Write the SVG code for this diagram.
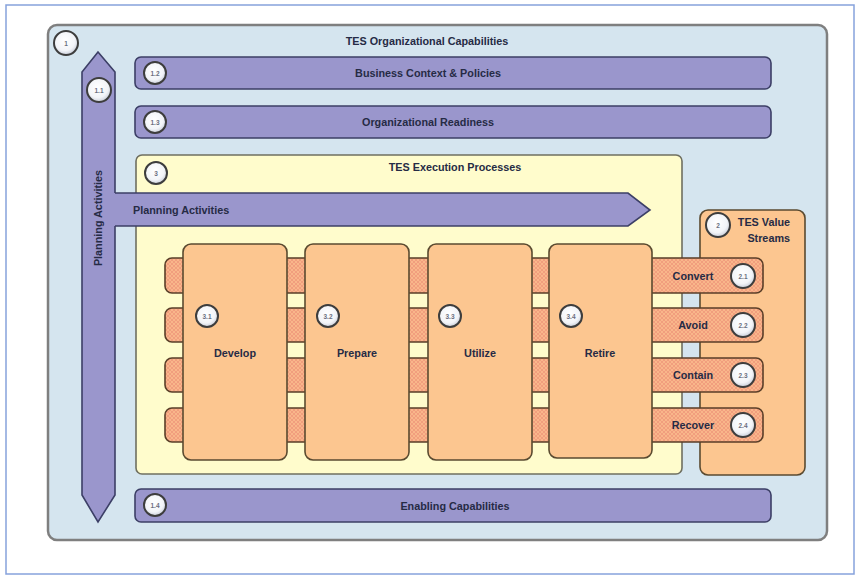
<svg xmlns="http://www.w3.org/2000/svg" width="856" height="576" viewBox="0 0 856 576">
<style>
.lbl{font-family:"Liberation Sans",Arial,sans-serif;font-weight:bold;font-size:10.8px;fill:#262b45;text-anchor:middle;dominant-baseline:central}
.ttl{font-family:"Liberation Sans",Arial,sans-serif;font-weight:bold;font-size:10.8px;fill:#262b45;dominant-baseline:central}
.num{font-family:"Liberation Sans",Arial,sans-serif;font-weight:bold;font-size:6.5px;fill:#6a6f80;text-anchor:middle;dominant-baseline:central}
.purple{fill:#9a96cc;stroke:#3c3f66;stroke-width:1.6}
.orange{fill:#fcc690;stroke:#5a4a30;stroke-width:1.6}
.hatch{fill:url(#hatch);stroke:#5a3e28;stroke-width:1.6}
.badge{fill:url(#bg);stroke:#3d3d3d;stroke-width:2}
</style>
<defs>
<pattern id="hatch" width="4" height="4" patternUnits="userSpaceOnUse">
<rect width="4" height="4" fill="#f9b68a"/>
<path d="M0,0 L4,4 M4,0 L0,4" stroke="#ee9478" stroke-width="0.7"/>
</pattern>
<radialGradient id="bg" cx="0.45" cy="0.4" r="0.6">
<stop offset="0" stop-color="#ffffff"/>
<stop offset="0.7" stop-color="#f2f4f8"/>
<stop offset="1" stop-color="#c9ceda"/>
</radialGradient>
</defs>
<rect x="6" y="5" width="848" height="569" fill="#ffffff" stroke="#86a2dc" stroke-width="1.5"/>
<g id="n1">
<rect x="48" y="25" width="779" height="515" rx="9" fill="#d5e5ef" stroke="#7f7f7f" stroke-width="2.5"/>
<text class="ttl" x="427" y="41" text-anchor="middle">TES Organizational Capabilities</text>
<circle class="badge" cx="66" cy="43" r="12"/><text class="num" x="66" y="43">1</text>
</g>
<g id="n1-2">
<rect class="purple" x="135" y="57" width="636" height="32" rx="6"/>
<text class="lbl" x="428" y="73">Business Context &amp; Policies</text>
<circle class="badge" cx="155" cy="73" r="11"/><text class="num" x="155" y="73">1.2</text>
</g>
<g id="n1-3">
<rect class="purple" x="135" y="106" width="636" height="32" rx="6"/>
<text class="lbl" x="428" y="122">Organizational Readiness</text>
<circle class="badge" cx="155" cy="122" r="11"/><text class="num" x="155" y="122">1.3</text>
</g>
<g id="n1-4">
<rect class="purple" x="135" y="489" width="636" height="33" rx="6"/>
<text class="lbl" x="455" y="506">Enabling Capabilities</text>
<circle class="badge" cx="155" cy="505" r="11"/><text class="num" x="155" y="505">1.4</text>
</g>
<g id="n3">
<rect x="136" y="155" width="546" height="319" rx="6" fill="#fffccc" stroke="#6f6f60" stroke-width="1.6"/>
<text class="ttl" x="455" y="167" text-anchor="middle">TES Execution Processes</text>
<circle class="badge" cx="156" cy="173" r="11"/><text class="num" x="156" y="173">3</text>
</g>
<g id="n2">
<rect class="orange" x="700" y="210" width="105" height="265" rx="8"/>
<text class="ttl" x="790" y="222" text-anchor="end">TES Value</text>
<text class="ttl" x="790" y="238" text-anchor="end">Streams</text>
<circle class="badge" cx="718" cy="225" r="12"/><text class="num" x="718" y="225">2</text>
</g>
<g id="n1-1">
<path class="purple" d="M98,52 L115,72 L115,495 L98,522 L82,495 L82,72 Z"/>
<path d="M113.5,193 L628,193 L650,210 L628,226 L113.5,226 Z" fill="#9a96cc"/>
<path d="M115,193 L628,193 L650,210 L628,226 L115,226" fill="none" stroke="#3c3f66" stroke-width="1.6"/>
<text class="ttl" x="133" y="210">Planning Activities</text>
<text class="lbl" x="98" y="218" transform="rotate(-90 98 218)">Planning Activities</text>
<circle class="badge" cx="99" cy="90" r="12"/><text class="num" x="99" y="90">1.1</text>
</g>
<g id="connectors">
<rect class="hatch" x="165" y="258" width="598" height="35" rx="7"/>
<rect class="hatch" x="165" y="308" width="598" height="34" rx="7"/>
<rect class="hatch" x="165" y="358" width="598" height="34" rx="7"/>
<rect class="hatch" x="165" y="408" width="598" height="34" rx="7"/>
</g>
<g id="n2-1"><text class="lbl" x="693" y="276">Convert</text><circle class="badge" cx="743" cy="276" r="12"/><text class="num" x="743" y="276">2.1</text></g>
<g id="n2-2"><text class="lbl" x="693" y="325">Avoid</text><circle class="badge" cx="743" cy="325" r="12"/><text class="num" x="743" y="325">2.2</text></g>
<g id="n2-3"><text class="lbl" x="693" y="375">Contain</text><circle class="badge" cx="743" cy="375" r="12"/><text class="num" x="743" y="375">2.3</text></g>
<g id="n2-4"><text class="lbl" x="693" y="425">Recover</text><circle class="badge" cx="743" cy="425" r="12"/><text class="num" x="743" y="425">2.4</text></g>
<g id="n3-1">
<rect class="orange" x="183" y="244" width="104" height="216" rx="8"/>
<text class="lbl" x="235" y="353">Develop</text>
<circle class="badge" cx="207" cy="316" r="11"/><text class="num" x="207" y="316">3.1</text>
</g>
<g id="n3-2">
<rect class="orange" x="305" y="244" width="104" height="216" rx="8"/>
<text class="lbl" x="357" y="353">Prepare</text>
<circle class="badge" cx="328" cy="316" r="11"/><text class="num" x="328" y="316">3.2</text>
</g>
<g id="n3-3">
<rect class="orange" x="428" y="244" width="104" height="216" rx="8"/>
<text class="lbl" x="480" y="353">Utilize</text>
<circle class="badge" cx="450" cy="316" r="11"/><text class="num" x="450" y="316">3.3</text>
</g>
<g id="n3-4">
<rect class="orange" x="549" y="244" width="103" height="214" rx="8"/>
<text class="lbl" x="600" y="353">Retire</text>
<circle class="badge" cx="571" cy="316" r="11"/><text class="num" x="571" y="316">3.4</text>
</g>
</svg>
